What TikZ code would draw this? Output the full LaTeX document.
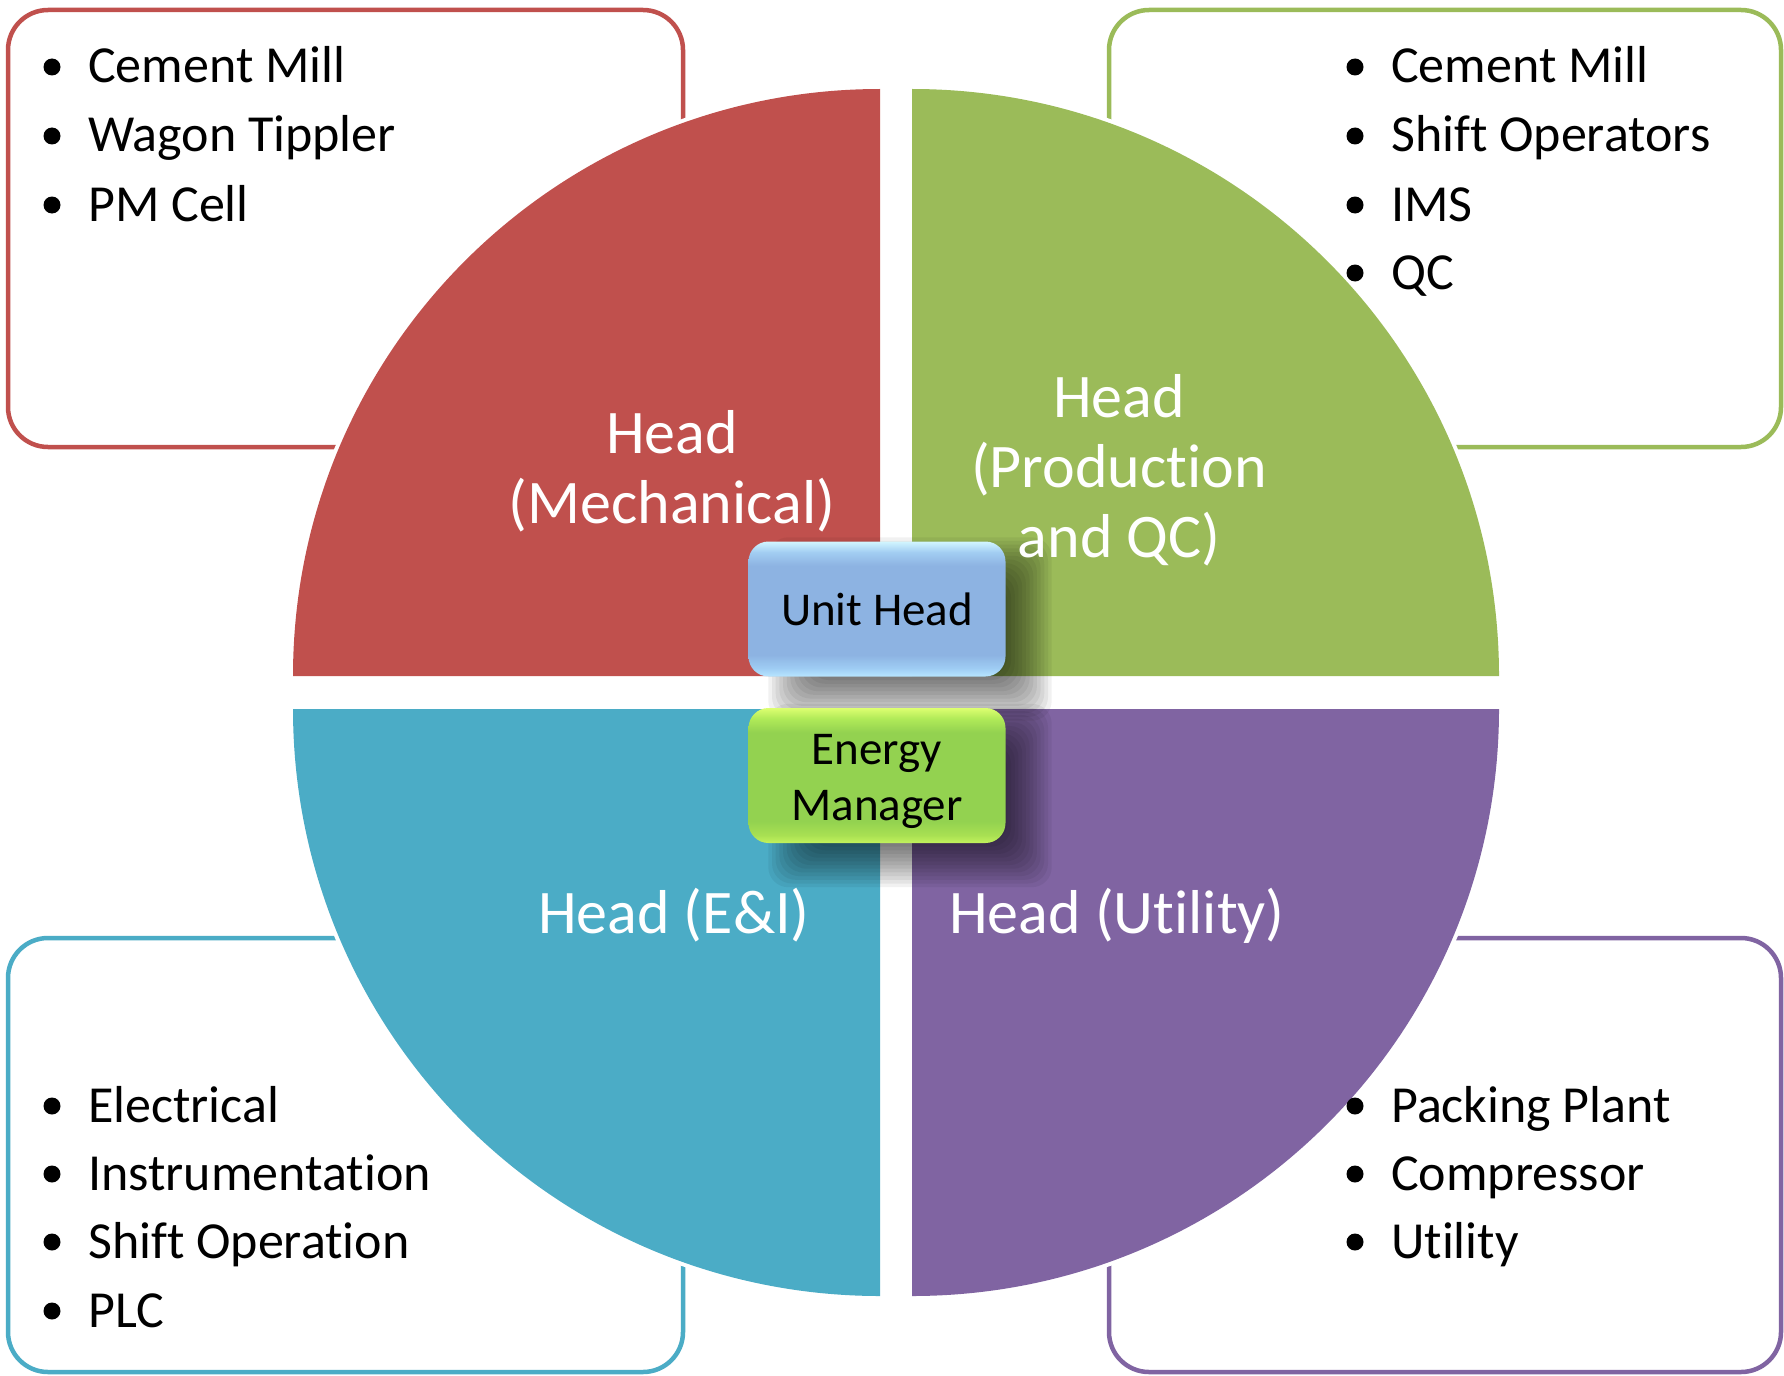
\documentclass[tikz,border=0pt]{standalone}
\usepackage{fontspec}
\setmainfont{Carlito}[Ligatures={NoCommon,NoContextual}]
\usetikzlibrary{calc}

% quadrant colours
\definecolor{qred}{HTML}{C0504D}
\definecolor{qgreen}{HTML}{9BBB59}
\definecolor{qblue}{HTML}{4BACC6}
\definecolor{qpurple}{HTML}{8064A2}
% glossy blue box
\definecolor{ubot}{HTML}{B8E6FF}
\definecolor{ulow}{HTML}{9FCDF4}
\definecolor{ubody}{HTML}{8DB3E2}
\definecolor{uhigh}{HTML}{A2CDF2}
\definecolor{utop}{HTML}{D2F6FF}
% glossy green box
\definecolor{ebot}{HTML}{C2F25C}
\definecolor{elow}{HTML}{A8E052}
\definecolor{ebody}{HTML}{93D250}
\definecolor{ehigh}{HTML}{B0EA58}
\definecolor{etop}{HTML}{DDFF70}

\pgfdeclareverticalshading{unitgloss}{100bp}{color(0bp)=(ubot); color(25bp)=(ubot); color(28bp)=(ulow); color(33bp)=(ubody); color(66bp)=(ubody); color(71bp)=(uhigh); color(75bp)=(utop); color(100bp)=(utop)}
\pgfdeclareverticalshading{energygloss}{100bp}{color(0bp)=(ebot); color(25bp)=(ebot); color(28bp)=(elow); color(33bp)=(ebody); color(66bp)=(ebody); color(71bp)=(ehigh); color(75bp)=(etop); color(100bp)=(etop)}

\pgfdeclarelayer{under}
\pgfdeclarelayer{shade}
\pgfsetlayers{under,shade,main}

\tikzset{
  outerbox/.style={rectangle, rounded corners=40pt, line width=4.5pt, fill=none, inner sep=0pt},
  itemtext/.style={anchor=base west, inner sep=0pt, text=black, font=\fontsize{52}{68}\selectfont},
  qlabel/.style={anchor=base, inner sep=0pt, text=white, font=\fontsize{62}{70}\selectfont},
  rolebox/.style={rectangle, rounded corners=20pt, minimum width=257pt, minimum height=135pt,
    inner sep=0pt, align=center, text=black, font=\fontsize{47}{56.5}\selectfont},
  halo/.style={white, line width=8pt},
}

% list entry: name, bullet x, baseline y (downwards), text
\newcommand{\bulletitem}[4]{%
  \node[itemtext] (#1) at (#2+36,-#3) {#4};
  \fill[black] (#2,-#3+16) circle[radius=8.5];
}

% soft drop shadow under a node, shifted right and down
\newcommand{\softshadow}[1]{%
  \foreach \k in {0,...,13}{%
    \pgfmathsetmacro{\e}{24-48*\k/13}
    \fill[black, opacity=0.055, rounded corners=20pt]
      ($(#1.south west)+(44-\e,-20-\e)$) rectangle ($(#1.north east)+(22+\e,-20+\e)$);
  }%
}

\begin{document}
\begin{tikzpicture}[x=1pt, y=1pt]
\useasboundingbox (0,0) rectangle (1784,-1375);

% central role boxes
\node[rolebox, shading=unitgloss] (unit) at (877,-609) {Unit Head};
\node[rolebox, shading=energygloss] (energy) at (877,-775.5) {\rule{0pt}{42pt}Energy\\Manager};

\begin{pgfonlayer}{under}
  \fill[white] (0,0) rectangle (1784,-1375);

  % framed lists behind the pie
  \node[outerbox, draw=qred,    minimum width=675pt, minimum height=437pt] (boxTL) at (345.5,-228.5) {};
  \node[outerbox, draw=qgreen,  minimum width=672pt, minimum height=437pt] (boxTR) at (1445,-228.5) {};
  \node[outerbox, draw=qblue,   minimum width=675pt, minimum height=434pt] (boxBL) at (345.5,-1155) {};
  \node[outerbox, draw=qpurple, minimum width=672pt, minimum height=434pt] (boxBR) at (1445,-1155) {};

  % white rim along the arcs
  \draw[halo] (293,-676) arc[start angle=180, end angle=90, radius=587];
  \draw[halo] (912,-89) arc[start angle=90, end angle=0, radius=587];
  \draw[halo] (293,-709) arc[start angle=180, end angle=270, radius=587];
  \draw[halo] (1499,-709) arc[start angle=0, end angle=-90, radius=587];

  % the four quadrants
  \fill[qred]    (880,-676) -- (293,-676) arc[start angle=180, end angle=90, radius=587] -- cycle;
  \fill[qgreen]  (912,-676) -- (912,-89) arc[start angle=90, end angle=0, radius=587] -- cycle;
  \fill[qblue]   (880,-709) -- (293,-709) arc[start angle=180, end angle=270, radius=587] -- cycle;
  \fill[qpurple] (912,-709) -- (1499,-709) arc[start angle=0, end angle=-90, radius=587] -- cycle;
\end{pgfonlayer}

\begin{pgfonlayer}{shade}
  \softshadow{unit}
  \softshadow{energy}
\end{pgfonlayer}

% quadrant titles
\node[qlabel] (mech1) at (672,-453) {Head};
\node[qlabel] (mech2) at (672,-523) {(Mechanical)};
\node[qlabel] (prod1) at (1119,-417) {Head};
\node[qlabel] (prod2) at (1119,-487) {(Production};
\node[qlabel] (prod3) at (1119,-557) {and QC)};
\node[qlabel] (elec)  at (674,-933) {Head (E\&I)};
\node[qlabel] (util)  at (1117,-933) {Head (Utility)};

% lists
\bulletitem{tl1}{52}{83}{Cement Mill}
\bulletitem{tl2}{52}{152}{Wagon Tippler}
\bulletitem{tl3}{52}{221}{PM Cell}

\bulletitem{tr1}{1355}{83}{Cement Mill}
\bulletitem{tr2}{1355}{152}{Shift Operators}
\bulletitem{tr3}{1355}{221}{IMS}
\bulletitem{tr4}{1355}{289}{QC}

\bulletitem{bl1}{52}{1122}{Electrical}
\bulletitem{bl2}{52}{1190}{Instrumentation}
\bulletitem{bl3}{52}{1258}{Shift Operation}
\bulletitem{bl4}{52}{1327}{PLC}

\bulletitem{br1}{1355}{1122}{Packing Plant}
\bulletitem{br2}{1355}{1190}{Compressor}
\bulletitem{br3}{1355}{1258}{Utility}
\end{tikzpicture}
\end{document}
